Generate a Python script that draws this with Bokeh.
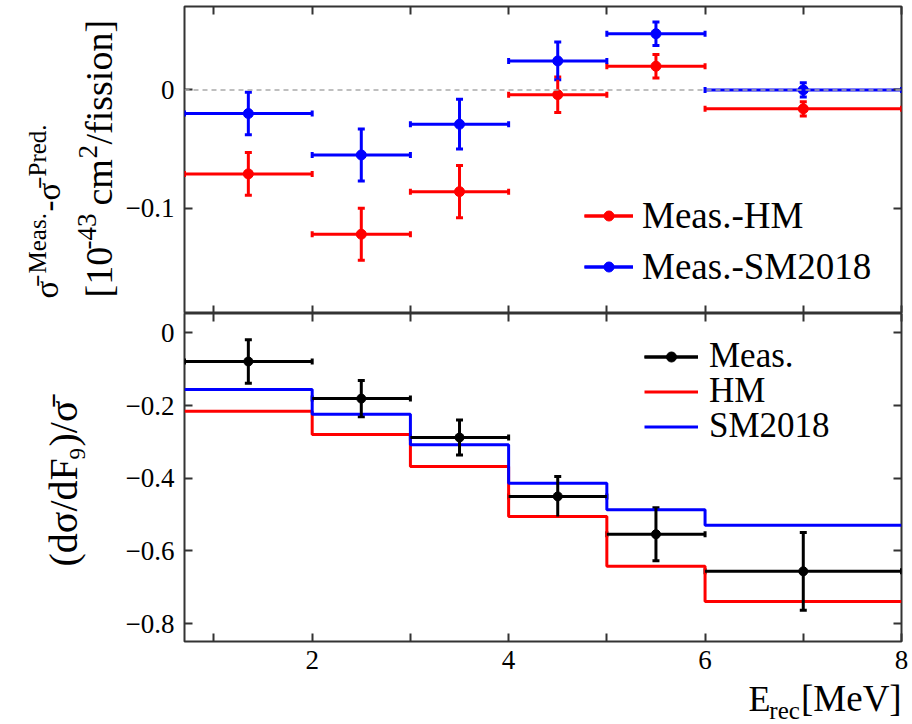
import numpy as np
from bokeh.plotting import figure
from bokeh.models import (LinearAxis, FixedTicker, Range1d, Whisker, TeeHead,
                          Legend, LegendItem, ColumnDataSource, Span)
from bokeh.core.properties import value
from bokeh.layouts import column, row
from bokeh.embed import file_html
from bokeh.resources import INLINE

# ---------------- data ----------------
bin_lo = [0.7, 2.0, 3.0, 4.0, 5.0, 6.0]
bin_hi = [2.0, 3.0, 4.0, 5.0, 6.0, 8.0]
x_pts = [1.35, 2.5, 3.5, 4.5, 5.5, 7.0]

diff_hm = [-0.071, -0.122, -0.086, -0.004, 0.020, -0.016]
diff_hm_err = [0.018, 0.022, 0.022, 0.015, 0.010, 0.006]
diff_sm = [-0.020, -0.055, -0.029, 0.0245, 0.0475, 0.0]
diff_sm_err = [0.018, 0.022, 0.021, 0.016, 0.010, 0.006]

meas = [-0.079, -0.181, -0.288, -0.450, -0.554, -0.656]
meas_err = [0.060, 0.050, 0.048, 0.055, 0.073, 0.107]
hm_pred = [-0.2155, -0.280, -0.368, -0.505, -0.642, -0.739]
sm_pred = [-0.156, -0.224, -0.308, -0.414, -0.487, -0.529]

x_ticks = [2, 4, 6, 8]
x_minor = [1, 3, 5, 7]
x_tick_labels = ["2", "4", "6", "8"]
top_y_ticks = [-0.1, 0.0]
top_y_labels = ["\u22120.1", "0"]
bot_y_ticks = [-0.8, -0.6, -0.4, -0.2, 0.0]
bot_y_labels = ["\u22120.8", "\u22120.6", "\u22120.4", "\u22120.2", "0"]

# ---------------- style / layout ----------------
FONT = "Liberation Serif"
RED = "#ff0000"
BLUE = "#0000ff"
BLACK = "#000000"
FRAME_C = "#333333"
W, H = 912, 724
LW = 120                    # width of the left label strip
FL, FR = 184, 901           # frame left / right (page pixels)
T_TOP, T_BOT = 6, 313
B_TOP, B_BOT = 313, 641
B_AX = 38                   # bottom axis band of the lower panel
XL_TOP = B_BOT + B_AX       # top of the x-label strip
ANG = np.pi / 2
BASE_SHIFT = 0.37           # anchor-to-baseline distance of a text glyph, in em


def make_axis(ticks, minor, labels=None, size="27px", standoff=10):
    if labels is None:
        ax = LinearAxis(ticker=FixedTicker(ticks=[], minor_ticks=ticks + minor))
    else:
        ax = LinearAxis(ticker=FixedTicker(ticks=ticks, minor_ticks=minor))
        ax.major_label_overrides = dict(zip(ticks, labels))
        ax.major_label_text_font = FONT
        ax.major_label_text_font_size = size
        ax.major_label_text_color = BLACK
        ax.major_label_standoff = standoff
    ax.axis_line_color = None
    ax.major_tick_in = 8
    ax.major_tick_out = 0
    ax.minor_tick_in = 8
    ax.minor_tick_out = 0
    ax.major_tick_line_color = FRAME_C
    ax.minor_tick_line_color = FRAME_C
    ax.major_tick_line_width = 2
    ax.minor_tick_line_width = 2
    return ax


def make_fig(y0, y1, ftop, fbot, border_bottom):
    p = figure(frame_width=FR - FL, frame_height=fbot - ftop,
               x_range=Range1d(0.7, 8.0), y_range=Range1d(y0, y1),
               x_axis_type=None, y_axis_type=None,
               output_backend="svg", toolbar_location=None,
               min_border_left=FL - LW, min_border_right=W - FR,
               min_border_top=0 if ftop == B_TOP else ftop,
               min_border_bottom=border_bottom,
               background_fill_color="white", border_fill_color="white",
               outline_line_color=FRAME_C, outline_line_width=2)
    p.xgrid.visible = False
    p.ygrid.visible = False
    return p


def canvas_fig(ox, oy, w, h):
    # plain text strip whose data coordinates are page pixels (y downward -> -y)
    p = figure(width=w, height=h, x_range=Range1d(ox, ox + w),
               y_range=Range1d(-(oy + h), -oy), x_axis_type=None, y_axis_type=None,
               output_backend="svg", toolbar_location=None, min_border=0,
               outline_line_color=None, background_fill_color="white",
               border_fill_color="white")
    p.xgrid.visible = False
    p.ygrid.visible = False
    return p


def add_text(p, cx, cy, text, size, rotated=False, align="left"):
    # (cx, cy): start of the text on its baseline, in page pixels
    if rotated:
        ax_, ay_, ang = cx - BASE_SHIFT * size, cy, ANG
    else:
        ax_, ay_, ang = cx, cy - BASE_SHIFT * size, 0.0
    p.text(x=[ax_], y=[-ay_], text=[text], angle=ang,
           text_font=value(FONT), text_font_size=value(f"{size}px"),
           text_color=BLACK, text_align=align, text_baseline="middle")


def errorbars(p, xs, ys, errs, color, dot_size):
    src = ColumnDataSource(dict(
        x=xs, y=ys, lo=bin_lo, hi=bin_hi,
        ylo=[a - b for a, b in zip(ys, errs)],
        yhi=[a + b for a, b in zip(ys, errs)]))
    h = p.segment(x0="lo", y0="y", x1="hi", y1="y", source=src,
                  line_color=color, line_width=3)
    v = p.segment(x0="x", y0="ylo", x1="x", y1="yhi", source=src,
                  line_color=color, line_width=3)
    p.add_layout(Whisker(source=src, base="x", lower="ylo", upper="yhi",
                         dimension="height", line_alpha=0,
                         upper_head=TeeHead(size=7, line_color=color, line_width=3),
                         lower_head=TeeHead(size=7, line_color=color, line_width=3)))
    p.add_layout(Whisker(source=src, base="y", lower="lo", upper="hi",
                         dimension="width", line_alpha=0,
                         upper_head=TeeHead(size=6, line_color=color, line_width=3),
                         lower_head=TeeHead(size=6, line_color=color, line_width=3)))
    d = p.scatter(x="x", y="y", source=src, size=dot_size, color=color)
    return [h, v, d]


def single_legend(p, fbot, renderers, label, cx, cy, font, gw, standoff, half):
    leg = Legend(items=[LegendItem(label=label, renderers=renderers)],
                 location=(cx - FL, fbot - cy - half),
                 glyph_width=gw, glyph_height=25, label_height=25,
                 label_standoff=standoff, padding=0, margin=0, spacing=0,
                 border_line_color=None, background_fill_alpha=0,
                 label_text_font=FONT, label_text_font_size=f"{font}px",
                 label_text_color=BLACK)
    p.add_layout(leg)


# ---------------- top panel ----------------
top = make_fig(-0.189, 0.0705, T_TOP, T_BOT, 0)
top.add_layout(make_axis(top_y_ticks, [], top_y_labels), "left")
top.add_layout(make_axis(top_y_ticks, []), "right")
top.add_layout(make_axis(x_ticks, x_minor), "below")
top.add_layout(make_axis(x_ticks, x_minor), "above")
top.add_layout(Span(location=0, dimension="width", line_color="#aaaaaa",
                    line_dash="5 4", line_width=1.5))

r_hm = errorbars(top, x_pts, diff_hm, diff_hm_err, RED, 10)
r_sm = errorbars(top, x_pts, diff_sm, diff_sm_err, BLUE, 10)

single_legend(top, T_BOT, r_hm, "Meas.-HM", 584, 217, 37, 49, 9, 20)
single_legend(top, T_BOT, r_sm, "Meas.-SM2018", 584, 268, 37, 49, 9, 20)

# ---------------- bottom panel ----------------
bot = make_fig(-0.849, 0.053, B_TOP, B_BOT, B_AX)
bot.add_layout(make_axis(bot_y_ticks, [], bot_y_labels), "left")
bot.add_layout(make_axis(bot_y_ticks, []), "right")
bot.add_layout(make_axis(x_ticks, x_minor, x_tick_labels, "27px", 9), "below")
bot.add_layout(make_axis(x_ticks, x_minor), "above")

edges = bin_lo + [bin_hi[-1]]
s_hm = bot.step(edges, hm_pred + [hm_pred[-1]], mode="after",
                line_color=RED, line_width=3)
s_sm = bot.step(edges, sm_pred + [sm_pred[-1]], mode="after",
                line_color=BLUE, line_width=3)
r_meas = errorbars(bot, x_pts, meas, meas_err, BLACK, 9)

single_legend(bot, B_BOT, r_meas, "Meas.", 644, 357, 35, 54, 11, 19)
single_legend(bot, B_BOT, [s_hm], "HM", 644, 392, 35, 54, 11, 19)
single_legend(bot, B_BOT, [s_sm], "SM2018", 644, 427, 35, 54, 11, 19)

# ---------------- left label strip (rotated y titles) ----------------
lab = canvas_fig(0, 0, LW, H)
# upper title, line 1:  sigma-bar^Meas. - sigma-bar^Pred.
add_text(lab, 59, 298, "\u03c3\u0304", 33, True)
add_text(lab, 46, 273, "Meas.", 25, True)
add_text(lab, 61, 211, "-\u03c3\u0304", 33, True)
add_text(lab, 46, 176, "Pred.", 25, True)
# upper title, line 2:  [10^-43 cm^2/fission]
add_text(lab, 113, 297, "[10", 38, True)
add_text(lab, 96, 249, "-43", 27, True)
add_text(lab, 113, 205, "cm", 38, True)
add_text(lab, 97, 158, "2", 27, True)
add_text(lab, 113, 144, "/fission]", 38, True)
# lower title:  (d sigma / dF_9) / sigma-bar
add_text(lab, 78, 566, "(d\u03c3/dF", 40, True)
add_text(lab, 86, 459, "9", 23, True)
add_text(lab, 78, 446, ")/\u03c3\u0304", 40, True)

# ---------------- x label strip ----------------
xl = canvas_fig(LW, XL_TOP, W - LW, H - XL_TOP)
add_text(xl, 743, 712, "E", 36)
add_text(xl, 766, 719, "rec", 25)
add_text(xl, 801, 712, "[MeV]", 37)

layout = row(lab, column(top, bot, xl, spacing=0), spacing=0)
open("out.html", "w").write(file_html(layout, INLINE))
